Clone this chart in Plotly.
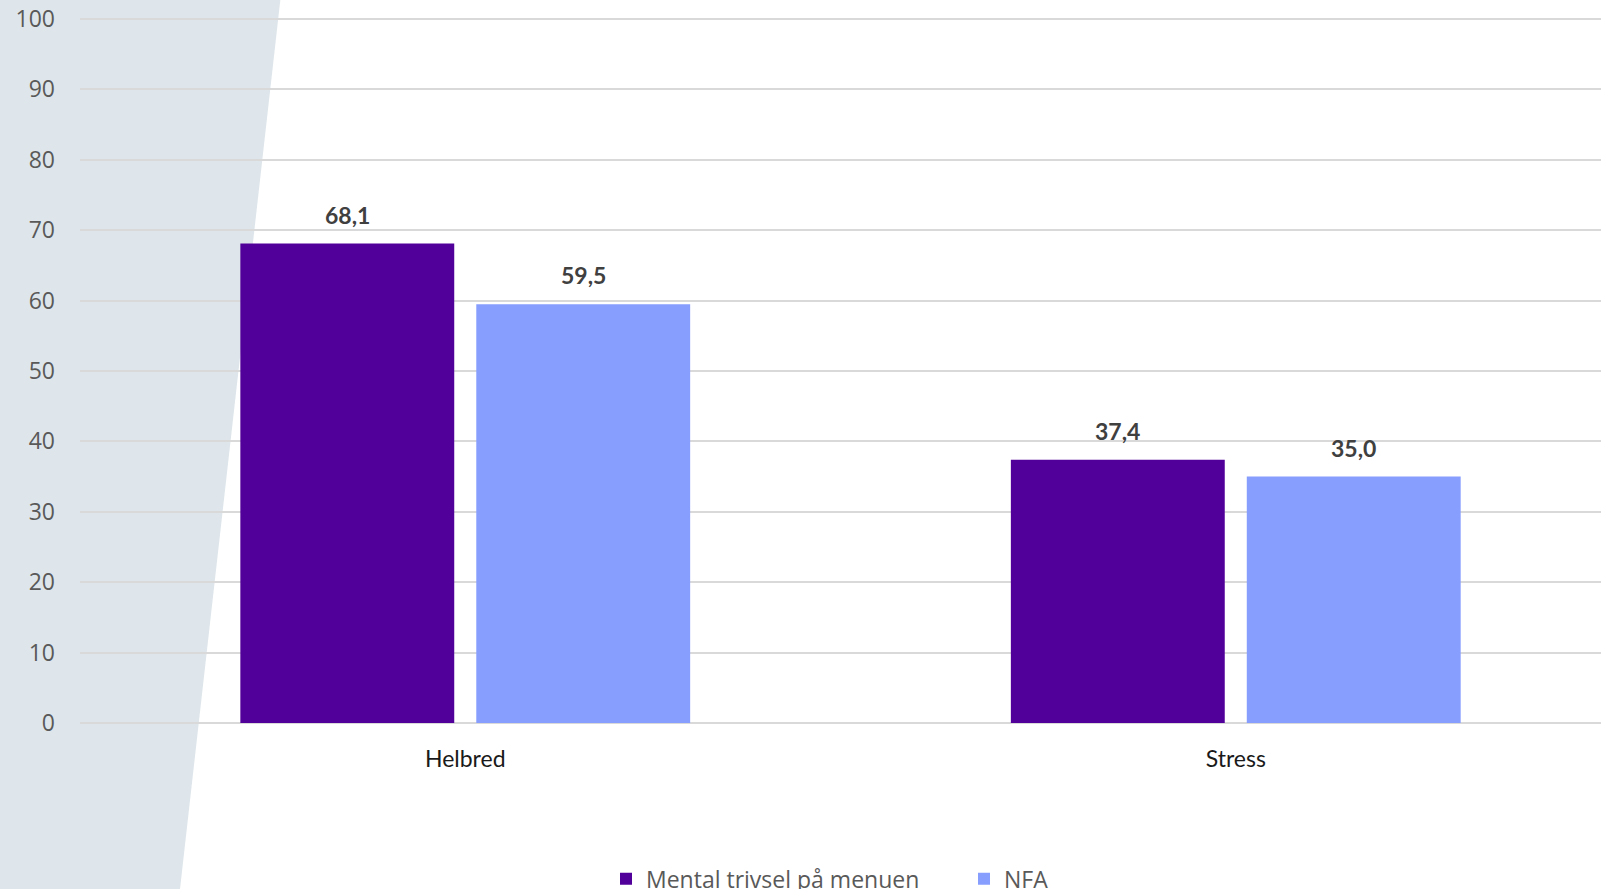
import plotly.graph_objects as go

categories = ["Helbred", "Stress"]
mental = [68.1, 37.4]
nfa = [59.5, 35.0]
series_names = ["Mental trivsel på menuen", "NFA"]
y_ticks = [0, 10, 20, 30, 40, 50, 60, 70, 80, 90, 100]

PURPLE = "#52009A"
BLUE = "#879EFF"
BAR_W = 0.2776
HALF_GAP = 0.0143

fig = go.Figure()
fig.add_trace(go.Bar(x=categories, y=mental, name=series_names[0], marker_color=PURPLE,
                     width=BAR_W, offset=-(BAR_W + HALF_GAP), marker_line_width=0))
fig.add_trace(go.Bar(x=categories, y=nfa, name=series_names[1], marker_color=BLUE,
                     width=BAR_W, offset=HALF_GAP, marker_line_width=0))

def fmt(v):
    return f"{v:.1f}".replace(".", ",")

annotations = []
for i, cat in enumerate(categories):
    for vals, sign in ((mental, -1), (nfa, 1)):
        annotations.append(dict(
            x=i + sign * (BAR_W / 2 + HALF_GAP), y=vals[i], xref="x", yref="y",
            text=fmt(vals[i]), showarrow=False, yanchor="middle", yshift=29,
            font=dict(family="Lato", size=23, color="#404040", weight="bold"),
        ))

# decorative grey slanted panel on the left
shape = dict(type="path", xref="paper", yref="paper", layer="below",
             path="M -0.0526 1.03 L 0.1321 1.03 L 0.0657 -0.236 L -0.0526 -0.236 Z",
             fillcolor="#DEE6EB", line=dict(width=0))

fig.update_layout(
    width=1601, height=889,
    margin=dict(l=80, r=0, t=16, b=166, autoexpand=False),
    paper_bgcolor="white", plot_bgcolor="rgba(0,0,0,0)",
    barmode="group",
    showlegend=True,
    legend=dict(orientation="h", x=(606 - 80) / 1521, xanchor="left",
                y=-0.19, yanchor="top",
                font=dict(family="Open Sans", size=23, color="#595959"),
                bgcolor="rgba(0,0,0,0)", entrywidth=313, entrywidthmode="pixels"),
    xaxis=dict(range=[-0.5, 1.474], showgrid=False, showline=False, zeroline=False,
               ticks="", ticklabelstandoff=20,
               tickfont=dict(family="Lato", size=23, color="#1a1a1a")),
    yaxis=dict(range=[0, 100.43], tickvals=y_ticks, showgrid=True, gridcolor="#D9D9D9",
               gridwidth=2, zeroline=True, zerolinecolor="#D9D9D9", zerolinewidth=2,
               showline=False, ticks="", ticklabelstandoff=24,
               tickfont=dict(family="Open Sans", size=23, color="#595959")),
    shapes=[shape],
    annotations=annotations,
)

fig.write_html("out.html")
